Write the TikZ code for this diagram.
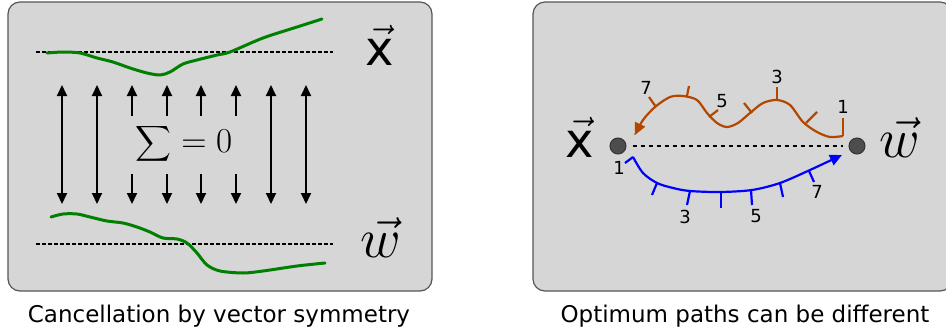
\RequirePackage{fix-cm}
\documentclass[tikz,border=0pt]{standalone}
\usepackage{amsmath}
\usepackage{fontspec}
\newfontfamily\dejavu{DejaVu Sans}
\usetikzlibrary{arrows.meta}
\definecolor{panelGray}{HTML}{D6D6D6}
\definecolor{panelEdge}{HTML}{555555}
\definecolor{traceGreen}{HTML}{008000}
\definecolor{routeOrange}{HTML}{B34700}
\definecolor{routeBlue}{HTML}{0000FF}
\definecolor{dotGray}{HTML}{4D4D4D}
\definecolor{dotEdge}{HTML}{333333}

\begin{document}
\begin{tikzpicture}[
  x=1pt, y=-1pt,
  panel/.style={draw=panelEdge, fill=panelGray, line width=1.2pt, rounded corners=12pt},
  guide/.style={line width=1.2pt, dash pattern=on 3.5pt off 2.5pt},
  trace/.style={traceGreen, line width=3pt, line cap=round},
  pull/.style={line width=2pt, -{Triangle[length=11pt,width=10pt]}},
  pair/.style={line width=2pt, {Triangle[length=11pt,width=10pt]}-{Triangle[length=11pt,width=10pt]}},
  vlabel/.style={anchor=base, inner sep=0pt, font=\fontsize{48}{52}\selectfont},
  caption/.style={font=\dejavu\fontsize{23}{27}\selectfont},
  dot/.style={circle, minimum size=16pt, inner sep=0pt, fill=dotGray, draw=dotEdge, line width=1pt},
  route/.style={#1, line width=2.2pt, -{Triangle[length=12pt,width=11pt]}},
  tick/.style={#1, line width=2.2pt},
  num/.style={font=\dejavu\fontsize{18}{21}\selectfont, inner sep=0pt},
]
  \useasboundingbox (0,0) rectangle (946,333);

  % left panel: cancellation
  \draw[panel] (8,2) rectangle (432,291);
  \draw[guide] (36,52) -- (333,52);
  \draw[guide] (36,244) -- (333,244);
  \draw[trace] plot[smooth] coordinates {(47,53) (63,52) (80,53) (97,58) (113,62) (130,68)
    (147,73) (160,75) (170,72) (183,64) (197,60) (217,55) (230,52) (263,38) (297,27) (322,19)};
  \draw[trace] plot[smooth] coordinates {(51,217) (63,214) (77,214) (90,217) (107,221) (123,223)
    (137,227) (150,232) (163,238) (177,239) (187,243) (197,253) (207,265) (220,271) (243,273)
    (263,271) (297,266) (325,263)};
  \foreach \x in {62,97,271,306}
    \draw[pair] (\x,85) -- (\x,204);
  \foreach \x in {132,167,201,236} {
    \draw[pull] (\x,116) -- (\x,85);
    \draw[pull] (\x,174) -- (\x,204);
  }
  \node[font=\fontsize{35}{39}\selectfont] (sum) at (184,144) {$\displaystyle\sum=0$};
  \node[vlabel] (xl) at (380,65) {$\vec{\hbox{\dejavu x}}$};
  \node[vlabel, font=\fontsize{56}{60}\selectfont] (wl) at (381,257) {$\vec{w}$};
  \node[caption] (capl) at (219,316) {Cancellation by vector symmetry};

  % right panel: optimum paths
  \draw[panel] (533,2) rectangle (952,291);
  \node[dot] (px) at (618,146) {};
  \node[dot] (pw) at (857,146) {};
  \draw[line width=1.2pt, dash pattern=on 4pt off 4pt, shorten <=6pt, shorten >=6pt] (px) -- (pw);
  \node[vlabel] (xr) at (580,157) {$\vec{\hbox{\dejavu x}}$};
  \node[vlabel, font=\fontsize{56}{60}\selectfont] (wr) at (900,157) {$\vec{w}$};

  \draw[route=routeOrange] plot[smooth] coordinates {(843,136) (830,137) (817,132) (803,122)
    (790,105) (777,100) (763,103) (750,113) (738,123) (727,127) (717,123) (707,113) (697,100)
    (683,96) (670,97) (655,107) (643,120) (635,135)};
  \foreach \p/\q in {{843,136}/{843,118}, {806,123}/{817,112}, {777,100}/{777,87},
      {752,113}/{744,103}, {709,117}/{718,110}, {687,96}/{689,86}, {656,107}/{649,97}}
    \draw[tick=routeOrange] (\p) -- (\q);
  \foreach \n/\pos in {1/{843,107}, 3/{777,77}, 5/{722,101}, 7/{646,88}}
    \node[num] (o\n) at (\pos) {\n};

  \draw[route=routeBlue] plot[smooth] coordinates {(633,157) (643,173) (657,183) (673,188)
    (690,191) (720,192) (752,190) (780,183) (810,170) (842,155)};
  \foreach \p/\q in {{633,157}/{625,163}, {657,183}/{652,195}, {690,191}/{687,205},
      {721,192}/{721,208}, {751,190}/{752,205}, {780,183}/{783,197}, {809,171}/{814,182}}
    \draw[tick=routeBlue] (\p) -- (\q);
  \foreach \n/\pos in {1/{619,168}, 3/{685,217}, 5/{756,216}, 7/{817,192}}
    \node[num] (b\n) at (\pos) {\n};

  \node[caption] (capr) at (745,316) {Optimum paths can be different};
\end{tikzpicture}
\end{document}
